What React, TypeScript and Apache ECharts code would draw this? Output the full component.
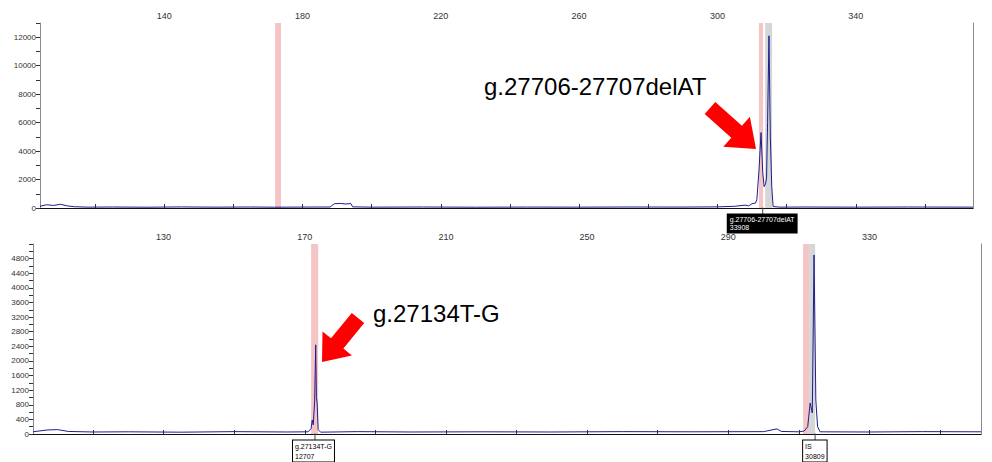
import React, { useEffect, useRef } from "react";
import * as echarts from "echarts";

// ---- data ----
const topTrace: [number, number][] = [
  [104.1, 120], [106, 230], [108, 180], [110, 260], [112, 150], [114, 90], [118, 60],
  [125, 70], [135, 55], [145, 75], [155, 60], [165, 70], [172, 55], [180, 65],
  [188, 70], [189.2, 300], [191, 320], [192.5, 280], [194, 310], [194.5, 80],
  [200, 60], [215, 70], [230, 55], [245, 65], [260, 60], [275, 70], [290, 65],
  [300, 80], [305, 120], [308, 200], [309, 150], [310, 300], [311, 350],
  [311.4, 600], [312, 2600], [312.6, 5300], [313.1, 2500], [313.5, 1500],
  [313.9, 1700], [314.2, 2100], [314.5, 6000], [314.9, 12100], [315.3, 5000],
  [315.7, 1500], [316.1, 100], [318, 60], [325, 70], [340, 60], [355, 70], [373.9, 60],
];
const bottomTrace: [number, number][] = [
  [93, 60], [97, 110], [100, 120], [103, 70], [110, 55], [120, 60], [135, 50],
  [150, 65], [165, 55], [171, 60], [171.8, 150], [172.1, 380], [172.4, 250],
  [172.8, 900], [173.1, 2440], [173.3, 1000], [173.5, 850], [173.8, 120],
  [174.5, 50], [185, 65], [200, 55], [220, 60], [240, 55], [260, 65], [280, 60],
  [300, 65], [303.8, 140], [305, 70], [310, 60], [311.5, 80], [312.5, 200],
  [313.2, 850], [313.8, 575], [314.3, 4900], [314.8, 930], [315.3, 200],
  [316, 60], [330, 55], [345, 65], [361.6, 60],
];
const topRedBands: [number, number][] = [[172.1, 173.8], [312.0, 313.2]];
const topGreyBands: [number, number][] = [[313.8, 315.8]];
const bottomRedBands: [number, number][] = [[171.8, 173.8], [311.2, 312.9]];
const bottomGreyBands: [number, number][] = [[312.9, 314.6]];
const topTickValues = [120, 140, 160, 180, 200, 220, 240, 260, 280, 300, 320, 340, 360];
const topLabelValues = [140, 180, 220, 260, 300, 340];
const bottomTickValues = [110, 130, 150, 170, 190, 210, 230, 250, 270, 290, 310, 330, 350];
const bottomLabelValues = [130, 170, 210, 250, 290, 330];
const topPeakLabels = [{ x: 313.1, text: "g.27706-27707delAT\n33908", shift: -35 }];
const bottomPeakLabels = [
  { x: 172.9, text: "g.27134T-G\n12707", shift: -22 },
  { x: 314.6, text: "IS\n30809", shift: -12 },
];

const FONT = "'Liberation Sans', Arial, sans-serif";
const AXIS_GREY = "#8a8a8a";
const TRACE = "#1d1d8f";

function arrow(tail: number[], tip: number[], shaftW: number, headW: number, headL: number) {
  const dx = tip[0] - tail[0];
  const dy = tip[1] - tail[1];
  const len = Math.hypot(dx, dy);
  const ux = dx / len, uy = dy / len;
  const px = -uy, py = ux;
  const bx = tip[0] - ux * headL, by = tip[1] - uy * headL;
  return [
    [tail[0] + px * shaftW / 2, tail[1] + py * shaftW / 2],
    [bx + px * shaftW / 2, by + py * shaftW / 2],
    [bx + px * headW / 2, by + py * headW / 2],
    [tip[0], tip[1]],
    [bx - px * headW / 2, by - py * headW / 2],
    [bx - px * shaftW / 2, by - py * shaftW / 2],
    [tail[0] - px * shaftW / 2, tail[1] - py * shaftW / 2],
  ];
}

function bands(red: [number, number][], grey: [number, number][]) {
  return [
    ...red.map((b) => [{ xAxis: b[0], itemStyle: { color: "#f5c4c4" } }, { xAxis: b[1] }]),
    ...grey.map((b) => [{ xAxis: b[0], itemStyle: { color: "#d6d6d6" } }, { xAxis: b[1] }]),
  ];
}

function xAxes(gridIndex: number, min: number, max: number, ticks: number[], labels: number[]) {
  return [
    {
      type: "value", gridIndex, position: "top", min, max,
      axisLine: { lineStyle: { color: AXIS_GREY, width: 1 } },
      axisTick: { show: true, length: 4, customValues: ticks, lineStyle: { color: "#333" } },
      axisLabel: { customValues: labels, fontSize: 9, color: "#333", fontFamily: FONT, margin: 3 },
      splitLine: { show: false },
    },
    {
      type: "value", gridIndex, position: "bottom", min, max,
      axisLine: { lineStyle: { color: "#111", width: 1 } },
      axisTick: { show: false }, axisLabel: { show: false }, splitLine: { show: false },
    },
  ];
}

export default function App() {
  const ref = useRef<HTMLDivElement>(null);
  useEffect(() => {
    if (!ref.current) return;
    const chart = echarts.init(ref.current, undefined, { renderer: "svg" });
    const labelPoint = (items: { x: number; text: string; shift: number }[], dark: boolean) => ({
      symbol: "rect",
      symbolSize: [1, 7],
      symbolOffset: [0, 3],
      itemStyle: { color: "#444" },
      data: items.map((it) => ({
        coord: [it.x, 0],
        label: {
          show: true, position: "bottom", distance: 0, offset: [it.shift, 0],
          formatter: it.text,
          fontSize: 7, lineHeight: dark ? 8 : 10, fontFamily: FONT, align: "left",
          color: dark ? "#ffffff" : "#000000",
          backgroundColor: dark ? "#000000" : "#ffffff",
          borderColor: "#000", borderWidth: 1, padding: dark ? [1, 2, 1, 2] : [1, 2, 0, 2],
        },
      })),
    });
    chart.setOption({
      animation: false,
      backgroundColor: "#fff",
      grid: [
        { left: 40, right: 19, top: 23, bottom: 254, show: false },
        { left: 33, right: 11, top: 244, bottom: 28, show: false },
      ],
      xAxis: [
        ...xAxes(0, 104.1, 373.9, topTickValues, topLabelValues),
        ...xAxes(1, 93, 361.6, bottomTickValues, bottomLabelValues),
      ],
      yAxis: [
        {
          type: "value", gridIndex: 0, min: 0, max: 13000, interval: 1000,
          axisLine: { show: true, lineStyle: { color: AXIS_GREY } },
          axisTick: { show: true, length: 4, lineStyle: { color: "#333" } },
          axisLabel: {
            fontSize: 8, color: "#333", fontFamily: FONT, margin: 4,
            formatter: (v: number) => (v % 2000 === 0 && v <= 12000 ? String(v) : ""),
          },
          splitLine: { show: false },
        },
        {
          type: "value", gridIndex: 1, min: 0, max: 5200, interval: 200,
          axisLine: { show: true, lineStyle: { color: AXIS_GREY } },
          axisTick: { show: true, length: 4, lineStyle: { color: "#333" } },
          axisLabel: {
            fontSize: 8, color: "#333", fontFamily: FONT, margin: 4,
            formatter: (v: number) => (v % 400 === 0 && v <= 4800 ? String(v) : ""),
          },
          splitLine: { show: false },
        },
        {
          type: "value", gridIndex: 0, position: "right", min: 0, max: 13000,
          axisLine: { show: true, lineStyle: { color: AXIS_GREY } },
          axisTick: { show: false }, axisLabel: { show: false }, splitLine: { show: false },
        },
        {
          type: "value", gridIndex: 1, position: "right", min: 0, max: 5200,
          axisLine: { show: true, lineStyle: { color: AXIS_GREY } },
          axisTick: { show: false }, axisLabel: { show: false }, splitLine: { show: false },
        },
      ],
      series: [
        {
          type: "line", xAxisIndex: 0, yAxisIndex: 0, data: topTrace,
          showSymbol: false, lineStyle: { color: TRACE, width: 1 }, z: 3,
          markArea: { silent: true, data: bands(topRedBands, topGreyBands) },
          markPoint: labelPoint(topPeakLabels, true),
        },
        {
          type: "line", xAxisIndex: 2, yAxisIndex: 1, data: bottomTrace,
          showSymbol: false, lineStyle: { color: TRACE, width: 1 }, z: 3,
          markArea: { silent: true, data: bands(bottomRedBands, bottomGreyBands) },
          markPoint: labelPoint(bottomPeakLabels, false),
        },
      ],
      graphic: [
        {
          type: "text", left: 484, top: 74,
          style: { text: "g.27706-27707delAT", font: `24px ${FONT}`, fill: "#000" },
        },
        {
          type: "text", left: 373, top: 301,
          style: { text: "g.27134T-G", font: `24px ${FONT}`, fill: "#000" },
        },
        {
          type: "polygon", z: 10,
          shape: { points: arrow([710, 108], [756, 149], 16, 40, 26) },
          style: { fill: "#ff0000" },
        },
        {
          type: "polygon", z: 10,
          shape: { points: arrow([358, 318], [322, 362], 16, 38, 24) },
          style: { fill: "#ff0000" },
        },
      ],
    });
    return () => chart.dispose();
  }, []);
  return <div ref={ref} style={{ width: 992, height: 462, position: "absolute", left: 0, top: 0 }} />;
}
